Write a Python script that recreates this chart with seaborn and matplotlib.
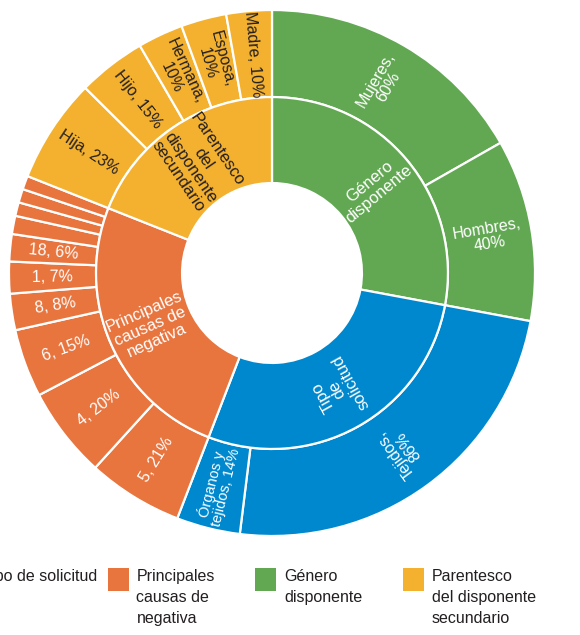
import numpy as np
import seaborn as sns
import matplotlib.pyplot as plt
from matplotlib.patches import Rectangle

# Datos
grupos = ["Género\ndisponente", "Tipo\nde\nsolicitud",
          "Principales\ncausas de\nnegativa", "Parentesco\ndel\ndisponente\nsecundario"]
leyenda = ["Tipo de solicitud", "Principales\ncausas de\nnegativa",
           "Género\ndisponente", "Parentesco\ndel disponente\nsecundario"]

genero_vals = [60, 40]
genero_lbl = ["Mujeres,\n60%", "Hombres,\n40%"]
tipo_vals = [86, 14]
tipo_lbl = ["Tejidos,\n86%", "Órganos y\ntejidos, 14%"]
causas_vals = [21, 20, 15, 8, 7, 6, 4, 3, 3, 3]
causas_lbl = ["5, 21%", "4, 20%", "6, 15%", "8, 8%", "1, 7%", "18, 6%", "", "", "", ""]
parentesco_vals = [23, 15, 10, 10, 10]
parentesco_lbl = ["Hija, 23%", "Hijo, 15%", "Hermana,\n10%", "Esposa,\n10%", "Madre, 10%"]

verde, azul, naranja, amarillo = "#62a853", "#0088cf", "#e8743e", "#f4b12f"

sns.set_theme(style="white")
plt.rcParams["font.family"] = ["Liberation Sans Narrow", "Liberation Sans", "DejaVu Sans"]

exterior = [genero_vals, tipo_vals, causas_vals, parentesco_vals]
etiquetas = [genero_lbl, tipo_lbl, causas_lbl, parentesco_lbl]
colores = [verde, azul, naranja, amarillo]
texto_col = ["white", "white", "white", "#231f20"]

out_vals = [v for g in exterior for v in g]
out_cols = [c for g, c in zip(exterior, colores) for _ in g]
in_vals = [sum(g) for g in exterior]

fig = plt.figure(figsize=(5.8, 6.35), dpi=100)
W, H = 580, 635
cx, cy, R = 272, 273, 263
ax = fig.add_axes([(cx - R) / W, (H - cy - R) / H, 2 * R / W, 2 * R / H])
ax.axis("off")

r_mid, r_hole = 0.669, 0.342
lw = 1.6
ax.pie(out_vals, radius=1.0, colors=out_cols, startangle=90, counterclock=False,
       wedgeprops=dict(width=1 - r_mid, edgecolor="white", linewidth=lw))
ax.pie(in_vals, radius=r_mid, colors=colores, startangle=90, counterclock=False,
       wedgeprops=dict(width=r_mid - r_hole, edgecolor="white", linewidth=lw))
ax.set_xlim(-1, 1)
ax.set_ylim(-1, 1)


def rot(a):
    a = (a + 180) % 360 - 180
    if a < -30 or a > 90:
        return a + 180
    return a


total = sum(out_vals)
unit = 360 / total

# Etiquetas exteriores
ang = 90
for vals, lbls, tc in zip(exterior, etiquetas, texto_col):
    for v, l in zip(vals, lbls):
        mid = ang - v * unit / 2
        ang -= v * unit
        if not l:
            continue
        t = np.deg2rad(mid)
        r = (1 + r_mid) / 2
        fs = 10.5 if v < 15 and "\n" in l and tc == "white" else 11.5
        ax.text(r * np.cos(t), r * np.sin(t), l, color=tc, fontsize=fs,
                rotation=rot(mid), rotation_mode="anchor", ha="center", va="center",
                multialignment="center", linespacing=1.0)

# Etiquetas interiores
ang = 90
for g, v, tc in zip(grupos, in_vals, texto_col):
    mid = ang - v * unit / 2
    ang -= v * unit
    t = np.deg2rad(mid)
    r = (r_mid + r_hole) / 2
    ax.text(r * np.cos(t), r * np.sin(t), g, color=tc, fontsize=12,
            rotation=rot(mid), rotation_mode="anchor", ha="center", va="center",
            multialignment="center", linespacing=1.05)

# Leyenda
orden = [azul, naranja, verde, amarillo]
for i, (lab, c) in enumerate(zip(leyenda, orden)):
    x = -40 + 147.5 * i
    fig.add_artist(Rectangle((x / W, 1 - 591 / H), 21 / W, 23 / H,
                             transform=fig.transFigure, color=c, lw=0))
    tx = x + 29 if i else x + 22
    fig.text(tx / W, 1 - 569 / H, lab, fontsize=11.5, va="top", ha="left",
             color="#231f20", linespacing=1.5)

fig.savefig("out.png", dpi=100)
